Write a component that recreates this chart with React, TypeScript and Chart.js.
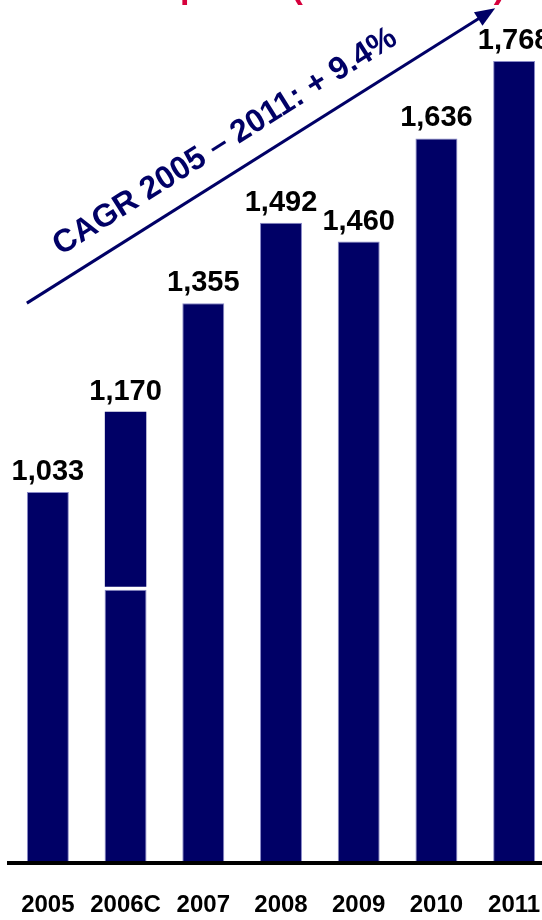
import React, { useEffect, useRef } from "react";
import { Chart, registerables } from "chart.js";

Chart.register(...registerables);

// ---- data ----
const categories = ["2005", "2006C", "2007", "2008", "2009", "2010", "2011"];
const baseValues = [1033, 866, 1355, 1492, 1460, 1636, 1768];
const addedValues: (number | null)[] = [null, 304, null, null, null, null, null];
const titleText = "Sales development (EUR million)";
const cagrText = "CAGR 2005 – 2011: + 9.4%";
const cagrFromValue = 1355;
const cagrToValue = 1858;

// ---- style ----
const NAVY = "#000066";
const EDGE = "#8a8ac8";
const FONT = "'Liberation Sans', Arial, Helvetica, sans-serif";

const totals = baseValues.map((v, i) => v + (addedValues[i] ?? 0));

const valueLabels = {
  id: "valueLabels",
  afterDatasetsDraw(chart: any) {
    const { ctx } = chart;
    const xs = chart.scales.x;
    const ys = chart.scales.y;
    ctx.save();
    ctx.font = `bold 29px ${FONT}`;
    ctx.fillStyle = "#000000";
    ctx.textAlign = "center";
    ctx.textBaseline = "alphabetic";
    totals.forEach((t, i) => {
      const x = xs.getPixelForValue(i);
      const y = ys.getPixelForValue(t);
      ctx.fillText(t.toLocaleString("en-US"), x, y - 12);
    });
    ctx.restore();
  },
};

const cagrArrow = {
  id: "cagrArrow",
  afterDraw(chart: any) {
    const { ctx } = chart;
    const xs = chart.scales.x;
    const ys = chart.scales.y;
    const x0 = xs.getPixelForValue(0) - 21;
    const y0 = ys.getPixelForValue(cagrFromValue);
    const x1 = xs.getPixelForValue(categories.length - 1) - 19;
    const y1 = ys.getPixelForValue(cagrToValue);
    const ang = Math.atan2(y1 - y0, x1 - x0);
    const len = Math.hypot(x1 - x0, y1 - y0);
    ctx.save();
    ctx.translate(x0, y0);
    ctx.rotate(ang);
    ctx.strokeStyle = NAVY;
    ctx.fillStyle = NAVY;
    ctx.lineWidth = 3;
    ctx.beginPath();
    ctx.moveTo(0, 0);
    ctx.lineTo(len - 16, 0);
    ctx.stroke();
    ctx.beginPath();
    ctx.moveTo(len, 0);
    ctx.lineTo(len - 20, -8);
    ctx.lineTo(len - 20, 8);
    ctx.closePath();
    ctx.fill();
    ctx.font = `bold 32px ${FONT}`;
    ctx.textAlign = "left";
    ctx.textBaseline = "alphabetic";
    ctx.fillText(cagrText, 54, -22);
    ctx.restore();
  },
};

export default function App() {
  const ref = useRef<HTMLCanvasElement | null>(null);

  useEffect(() => {
    if (!ref.current) return;
    const chart = new Chart(ref.current, {
      type: "bar",
      data: {
        labels: categories,
        datasets: [
          {
            data: baseValues,
            backgroundColor: NAVY,
            borderColor: EDGE,
            borderWidth: { left: 1, right: 1, top: 1, bottom: 0 },
            borderSkipped: false,
            stack: "s",
            barPercentage: 0.54,
            categoryPercentage: 1,
            clip: 0,
          } as any,
          {
            data: addedValues,
            backgroundColor: NAVY,
            borderColor: "#ffffff",
            borderWidth: { left: 0, right: 0, top: 0, bottom: 3 },
            borderSkipped: false,
            stack: "s",
            barPercentage: 0.54,
            categoryPercentage: 1,
            clip: 0,
          } as any,
        ],
      },
      options: {
        responsive: false,
        animation: false,
        devicePixelRatio: 1,
        layout: { padding: { left: 9, right: 0, top: 10, bottom: 0 } },
        plugins: {
          legend: { display: false },
          tooltip: { enabled: false },
          title: { display: false },
        },
        scales: {
          x: {
            stacked: true,
            grid: { display: false, drawTicks: false },
            border: { display: true, color: "#000000", width: 4, z: 1 } as any,
            ticks: {
              color: "#000000",
              font: { family: FONT, weight: "bold", size: 24, lineHeight: 3.5 },
              padding: 0,
              maxRotation: 0,
              autoSkip: false,
            },
          },
          y: {
            stacked: true,
            display: false,
            min: 400,
            max: 1855,
          },
        },
      },
      plugins: [valueLabels, cagrArrow],
    });
    return () => chart.destroy();
  }, []);

  return (
    <div
      style={{
        position: "fixed",
        left: 0,
        top: 0,
        width: 542,
        height: 920,
        overflow: "hidden",
        background: "#ffffff",
      }}
    >
      <div
        style={{
          position: "absolute",
          top: -31,
          right: 37,
          whiteSpace: "nowrap",
          font: `bold 34px ${FONT}`,
          lineHeight: "34px",
          color: "#d6003c",
        }}
      >
        {titleText}
      </div>
      <canvas
        ref={ref}
        width={553}
        height={947}
        style={{ display: "block", width: 553, height: 947 }}
      />
    </div>
  );
}
